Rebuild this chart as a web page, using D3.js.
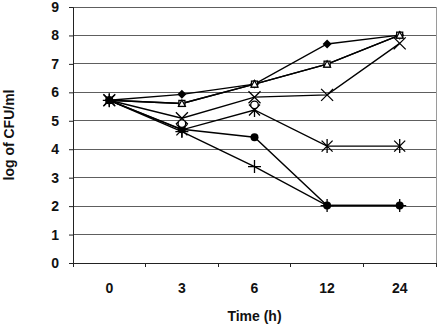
<!DOCTYPE html>
<html><head><meta charset="utf-8">
<script src="https://cdn.jsdelivr.net/npm/d3@7"></script>
<style>body{margin:0;background:#fff}</style>
</head><body>
<svg id="c" width="438" height="326"></svg>
<script>
const times = ["0", "3", "6", "12", "24"];
const yTicks = [0,1,2,3,4,5,6,7,8,9];
const diamondVals  = [5.72, 5.93, 6.29, 7.70, 8.01];
const squareVals   = [5.72, 5.61, 6.29, 6.99, 8.01];
const triangleVals = [5.72, 5.61, 6.29, 6.99, 8.01];
const crossVals    = [5.72, 5.09, 5.83, 5.91, 7.72];
const starVals     = [5.72, 4.68, 5.38, 4.11, 4.11];
const circleVals   = [5.72, 4.70, 4.42, 2.02, 2.02];
const plusVals     = [5.72, 4.62, 3.39, 2.02, 2.02];
const openMarkVals = [null, 4.90, 5.56, null, null];

const series = [
  {vals: diamondVals, shape: "diamond", line: true},
  {vals: squareVals, shape: "square", line: true},
  {vals: triangleVals, shape: "triangle", line: true},
  {vals: crossVals, shape: "cross", line: true},
  {vals: starVals, shape: "star", line: true},
  {vals: circleVals, shape: "circle", line: true},
  {vals: plusVals, shape: "plus", line: true},
  {vals: openMarkVals, shape: "opencircle", line: false}
];

const svg = d3.select("#c");
const L = 73, R = 436, T = 7, B = 263;
const x = d3.scalePoint().domain(times).range([L, R]).padding(0.5);
const y = d3.scaleLinear().domain([0, 9]).range([B, T]);
const step = x.step();
const font = "'Liberation Sans', Arial, sans-serif";

svg.append("g").selectAll("line").data(yTicks.filter(d => d > 0)).join("line")
  .attr("x1", L).attr("x2", R).attr("y1", d => y(d)).attr("y2", d => y(d))
  .attr("stroke", "#5e5e5e").attr("stroke-width", 1).attr("shape-rendering", "crispEdges");
svg.append("line").attr("x1", R).attr("x2", R).attr("y1", T).attr("y2", B)
  .attr("stroke", "#9a9a9a").attr("shape-rendering", "crispEdges");

const yAxis = d3.axisLeft(y).tickValues(yTicks).tickSize(4).tickPadding(10).tickFormat(d3.format("d"));
const gy = svg.append("g").attr("transform", `translate(${L},0)`).call(yAxis);
gy.select(".domain").attr("stroke", "#222");
gy.selectAll(".tick line").attr("stroke", "#222");
gy.selectAll("text").attr("font-family", font).attr("font-size", 14).attr("font-weight", "bold").attr("fill", "#111");

svg.append("line").attr("x1", L).attr("x2", R).attr("y1", B).attr("y2", B)
  .attr("stroke", "#222").attr("shape-rendering", "crispEdges");
svg.append("g").selectAll("line").data(d3.range(times.length + 1)).join("line")
  .attr("x1", i => L + i * step).attr("x2", i => L + i * step)
  .attr("y1", B).attr("y2", B + 4).attr("stroke", "#222").attr("shape-rendering", "crispEdges");
svg.append("g").selectAll("text").data(times).join("text")
  .attr("x", d => x(d)).attr("y", B + 30).attr("text-anchor", "middle")
  .attr("font-family", font).attr("font-size", 14).attr("font-weight", "bold").attr("fill", "#111")
  .text(d => d);

svg.append("text").attr("x", (L + R) / 2).attr("y", 321).attr("text-anchor", "middle")
  .attr("font-family", font).attr("font-size", 14).attr("font-weight", "bold").attr("fill", "#111")
  .text("Time (h)");
svg.append("text").attr("transform", `translate(14,${(T + B) / 2}) rotate(-90)`)
  .attr("text-anchor", "middle").attr("font-family", font).attr("font-size", 14)
  .attr("font-weight", "bold").attr("fill", "#111").text("log of CFU/ml");

const lineGen = d3.line().defined(d => d.v != null).x(d => x(d.t)).y(d => y(d.v));
series.filter(s => s.line).forEach(s => {
  svg.append("path").datum(times.map((t, i) => ({t, v: s.vals[i]})))
    .attr("d", lineGen).attr("fill", "none").attr("stroke", "#000").attr("stroke-width", 1.4);
});

function drawMarker(g, shape, cx, cy) {
  const k = "#000";
  if (shape === "diamond") {
    g.append("path").attr("d", `M${cx},${cy-4.5}L${cx+4.5},${cy}L${cx},${cy+4.5}L${cx-4.5},${cy}Z`).attr("fill", k);
  } else if (shape === "square") {
    g.append("rect").attr("x", cx-3).attr("y", cy-3).attr("width", 6).attr("height", 6)
      .attr("fill", "#fff").attr("stroke", k).attr("stroke-width", 1.3);
  } else if (shape === "triangle") {
    g.append("path").attr("d", `M${cx},${cy-3.5}L${cx+3.5},${cy+3}L${cx-3.5},${cy+3}Z`)
      .attr("fill", "#fff").attr("stroke", k).attr("stroke-width", 1.2);
  } else if (shape === "cross") {
    g.append("path").attr("d", `M${cx-6},${cy-6}L${cx+6},${cy+6}M${cx-6},${cy+6}L${cx+6},${cy-6}`)
      .attr("stroke", k).attr("stroke-width", 1.3);
  } else if (shape === "star") {
    g.append("path").attr("d", `M${cx-5.5},${cy-5.5}L${cx+5.5},${cy+5.5}M${cx-5.5},${cy+5.5}L${cx+5.5},${cy-5.5}M${cx},${cy-7}L${cx},${cy+7}`)
      .attr("stroke", k).attr("stroke-width", 1.3);
  } else if (shape === "circle") {
    g.append("circle").attr("cx", cx).attr("cy", cy).attr("r", 4).attr("fill", k);
  } else if (shape === "plus") {
    g.append("path").attr("d", `M${cx-6.5},${cy}L${cx+6.5},${cy}M${cx},${cy-6.5}L${cx},${cy+6.5}`)
      .attr("stroke", k).attr("stroke-width", 1.3);
  } else if (shape === "opencircle") {
    g.append("circle").attr("cx", cx).attr("cy", cy).attr("r", 3.8)
      .attr("fill", "#fff").attr("stroke", k).attr("stroke-width", 1.3);
  }
}
const mg = svg.append("g");
series.forEach(s => {
  times.forEach((t, i) => {
    if (s.vals[i] != null) drawMarker(mg, s.shape, x(t), y(s.vals[i]));
  });
});
</script>
</body></html>
